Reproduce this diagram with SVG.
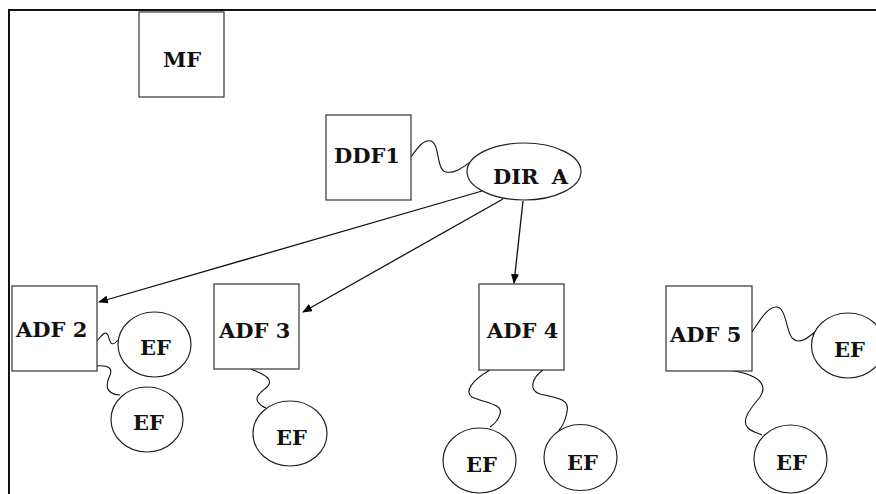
<svg xmlns="http://www.w3.org/2000/svg" width="876" height="494" viewBox="0 0 876 494">
<defs>
<marker id="ah" markerWidth="10" markerHeight="8" refX="9" refY="4" orient="auto" markerUnits="userSpaceOnUse">
<path d="M0,0 L10,4 L0,8 Z" fill="#000"/>
</marker>
<style>
.box{fill:#fff;stroke:#333;stroke-width:1.2}
.ell{fill:#fff;stroke:#222;stroke-width:1.2}
.t{font-family:"DejaVu Serif","Liberation Serif",serif;font-weight:bold;font-size:21px;fill:#111}
.sq{fill:none;stroke:#111;stroke-width:1.1}
.ar{fill:none;stroke:#111;stroke-width:1.3;marker-end:url(#ah)}
.frame{fill:none;stroke:#111;stroke-width:2}
</style>
</defs>
<rect width="876" height="494" fill="#fff"/>
<path class="frame" d="M9,494 L9,10 L876,10"/>
<g id="connectors">
<path class="sq" d="M411,157 C418,147 424,139 431,141 C440,144 436,170 446,172 C456,174 464,166 472,161"/>
<path class="ar" d="M482,191 L99,302"/>
<path class="ar" d="M503,199 L303,312"/>
<path class="ar" d="M523,201 L514,283"/>
<path class="sq" d="M97,341 C102,335 105,330 108,335 C110,342 111,348 118,340"/>
<path class="sq" d="M97,366 C108,365 113,368 110,375 C106,384 104,394 120,395"/>
<path class="sq" d="M251,369 C262,374 274,378 268,386 C262,392 254,396 258,402 C260,405 263,407 266,408"/>
<path class="sq" d="M490,370 C472,380 464,392 472,397 C484,403 504,404 500,414 C498,421 494,424 490,427"/>
<path class="sq" d="M543,370 C532,378 528,390 540,394 C560,398 570,400 567,412 C565,422 562,427 559,430"/>
<path class="sq" d="M752,332 C760,320 768,306 777,307 C786,308 786,330 792,338 C800,346 810,336 817,330"/>
<path class="sq" d="M727,370 C760,374 768,385 760,397 C752,407 740,420 748,428 C752,432 758,433 762,435"/>
</g>
<g id="mf"><rect class="box" x="139" y="12" width="85" height="85"/><text class="t" x="163" y="67">MF</text></g>
<g id="ddf1"><rect class="box" x="326" y="115" width="85" height="85"/><text class="t" x="334" y="163">DDF1</text></g>
<g id="dira"><ellipse class="ell" cx="524" cy="171.5" rx="57" ry="28.5"/><text class="t" x="493" y="184" style="word-spacing:6px">DIR A</text></g>
<g id="adf2"><rect class="box" x="12" y="286" width="85" height="85"/><text class="t" x="16" y="337">ADF 2</text></g>
<g id="adf3"><rect class="box" x="214" y="284" width="85" height="85"/><text class="t" x="219" y="338">ADF 3</text></g>
<g id="adf4"><rect class="box" x="479" y="284" width="85" height="86"/><text class="t" x="487" y="338">ADF 4</text></g>
<g id="adf5"><rect class="box" x="666" y="286" width="86" height="85"/><text class="t" x="670" y="342">ADF 5</text></g>
<g id="ef2a"><ellipse class="ell" cx="154.5" cy="344.5" rx="36.5" ry="32.5"/><text class="t" x="140" y="355">EF</text></g>
<g id="ef2b"><ellipse class="ell" cx="147" cy="419.5" rx="36" ry="32.5"/><text class="t" x="133" y="430">EF</text></g>
<g id="ef3"><ellipse class="ell" cx="290" cy="433.5" rx="37" ry="32.5"/><text class="t" x="276" y="445">EF</text></g>
<g id="ef4a"><ellipse class="ell" cx="479.5" cy="460.5" rx="36.5" ry="32.5"/><text class="t" x="466" y="472">EF</text></g>
<g id="ef4b"><ellipse class="ell" cx="580.5" cy="457.5" rx="36.5" ry="33"/><text class="t" x="567" y="470">EF</text></g>
<g id="ef5a"><ellipse class="ell" cx="848" cy="345.5" rx="36.5" ry="32.5"/><text class="t" x="834" y="357">EF</text></g>
<g id="ef5b"><ellipse class="ell" cx="790.5" cy="459" rx="36.5" ry="34"/><text class="t" x="776" y="470">EF</text></g>
</svg>
